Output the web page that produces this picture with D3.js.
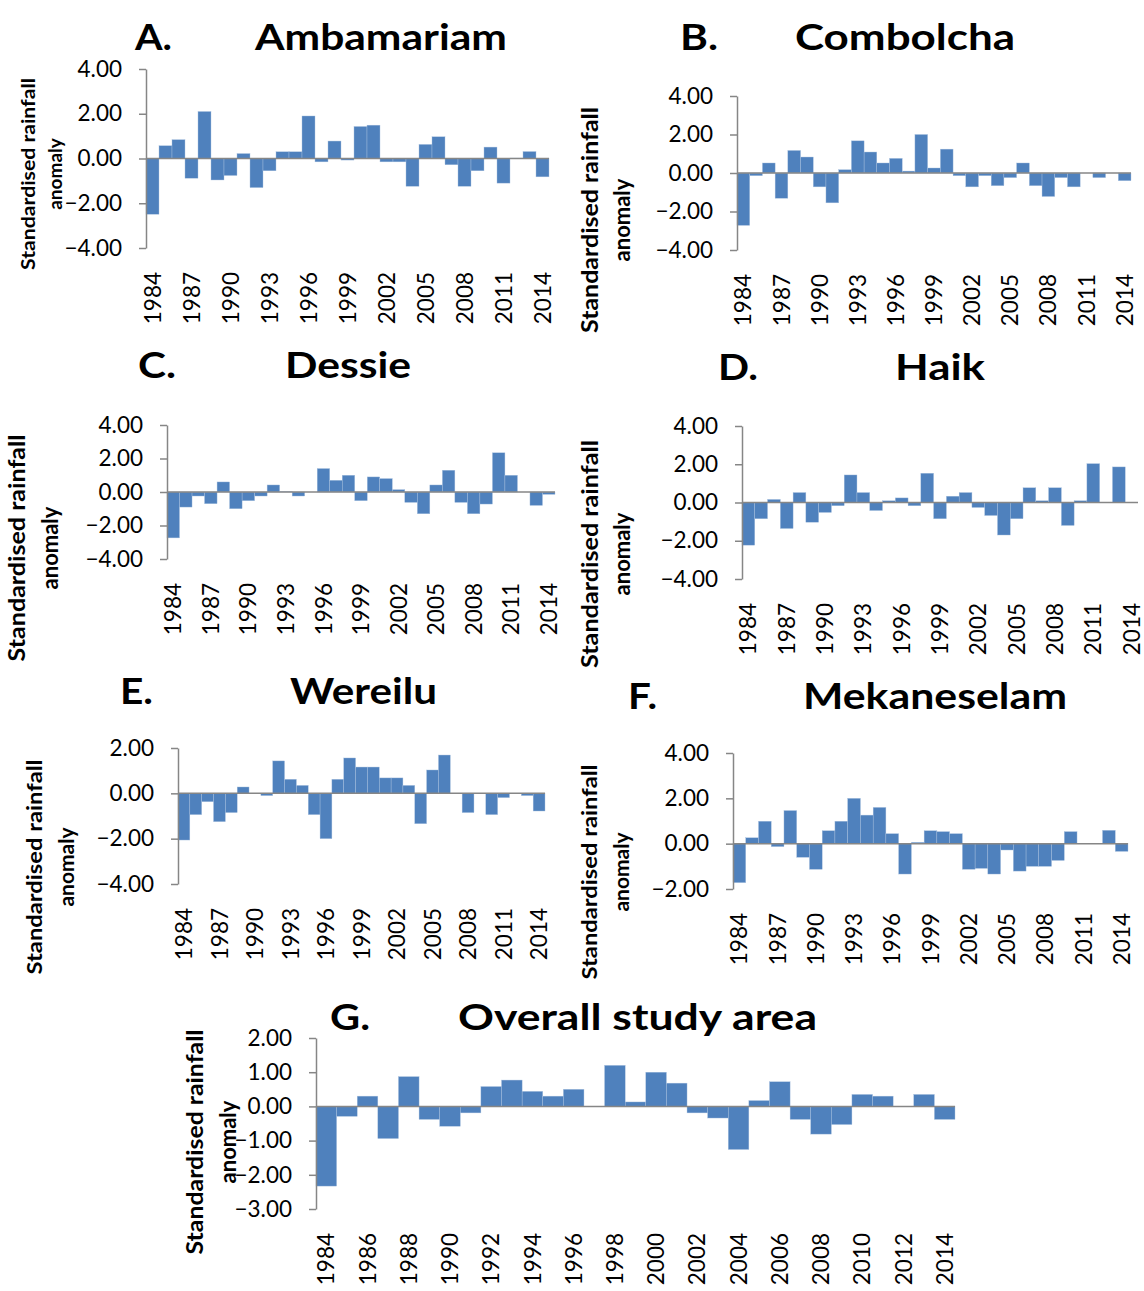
<!DOCTYPE html>
<html><head><meta charset="utf-8">
<script src="https://cdn.jsdelivr.net/npm/d3@7"></script>
<style>
body{margin:0;background:#fff}
svg{display:block}
text{font-family:Lato,"Open Sans",sans-serif}
</style>
</head><body>
<svg id="chart" width="1144" height="1291"></svg>
<script>
// ---------- data ----------
const years = [1984,1985,1986,1987,1988,1989,1990,1991,1992,1993,1994,1995,1996,1997,1998,1999,
               2000,2001,2002,2003,2004,2005,2006,2007,2008,2009,2010,2011,2012,2013,2014];
const yearLabelsEvery3 = [1984,1987,1990,1993,1996,1999,2002,2005,2008,2011,2014];
const yearLabelsEvery2 = [1984,1986,1988,1990,1992,1994,1996,1998,2000,2002,2004,2006,2008,2010,2012,2014];
const yTicks8 = [-4,-2,0,2,4];
const yTicksE = [-4,-2,0,2];
const yTicksF = [-2,0,2,4];
const yTicksG = [-3,-2,-1,0,1,2];

const ambamariam = [-2.49,0.57,0.84,-0.88,2.10,-0.96,-0.76,0.22,-1.30,-0.55,0.30,0.30,1.90,-0.15,0.78,-0.07,
                    1.43,1.49,-0.15,-0.15,-1.24,0.63,0.97,-0.28,-1.24,-0.55,0.51,-1.10,0.02,0.31,-0.82];
const combolcha  = [-2.72,-0.14,0.52,-1.31,1.17,0.83,-0.72,-1.55,0.17,1.67,1.09,0.52,0.76,0.10,2.00,0.26,
                    1.24,-0.14,-0.72,-0.14,-0.66,-0.24,0.52,-0.66,-1.22,-0.24,-0.72,0.00,-0.24,0.00,-0.40];
const dessie     = [-2.74,-0.90,-0.24,-0.70,0.60,-1.00,-0.52,-0.24,0.42,0.02,-0.24,0.00,1.40,0.70,1.00,-0.52,
                    0.90,0.80,0.14,-0.62,-1.30,0.42,1.30,-0.62,-1.30,-0.72,2.34,1.00,0.00,-0.80,-0.14];
const haik       = [-2.23,-0.85,0.16,-1.36,0.52,-1.03,-0.52,-0.17,1.44,0.52,-0.42,0.09,0.24,-0.17,1.53,-0.85,
                    0.33,0.52,-0.26,-0.68,-1.70,-0.85,0.77,0.09,0.77,-1.20,0.09,2.03,0.00,1.86,0.00];
const wereilu    = [-2.06,-0.94,-0.37,-1.25,-0.85,0.28,0.00,-0.10,1.43,0.62,0.35,-0.94,-2.00,0.62,1.56,1.16,
                    1.16,0.68,0.68,0.35,-1.34,1.03,1.69,0.00,-0.85,0.00,-0.94,-0.19,0.00,-0.10,-0.78];
const mekaneselam= [-1.72,0.26,0.99,-0.13,1.46,-0.60,-1.13,0.57,0.99,2.00,1.26,1.60,0.44,-1.34,0.06,0.57,
                    0.53,0.44,-1.13,-1.09,-1.34,-0.28,-1.21,-1.00,-1.00,-0.74,0.53,0.00,0.00,0.59,-0.34];
const overall    = [-2.33,-0.29,0.30,-0.94,0.87,-0.38,-0.58,-0.19,0.58,0.77,0.44,0.30,0.50,0.00,1.20,0.13,
                    1.00,0.68,-0.19,-0.34,-1.26,0.17,0.72,-0.38,-0.81,-0.53,0.35,0.30,0.00,0.35,-0.38];

const yLabel1 = "Standardised rainfall";
const yLabel2 = "anomaly";

// ---------- layout ----------
const panels = [
  {letter:"A.", name:"Ambamariam", values:ambamariam, dom:[-4,4], ticks:yTicks8, xt:yearLabelsEvery3,
   x0:146, x1:549, yT:69, yB:248, lx:135, lLen:37, nx:255, nLen:252, ty:50,
   l1x:28, l2x:55, lcy:174, lSize:19, lLen1:192},
  {letter:"B.", name:"Combolcha", values:combolcha, dom:[-4,4], ticks:yTicks8, xt:yearLabelsEvery3,
   x0:737, x1:1131, yT:96, yB:250, lx:680, lLen:38, nx:795, nLen:220, ty:50,
   l1x:590, l2x:622, lcy:220, lSize:22, lLen1:226},
  {letter:"C.", name:"Dessie", values:dessie, dom:[-4,4], ticks:yTicks8, xt:yearLabelsEvery3,
   x0:167, x1:555, yT:425, yB:559, lx:138, lLen:38, nx:285, nLen:126, ty:378,
   l1x:17, l2x:50, lcy:548, lSize:22, lLen1:227},
  {letter:"D.", name:"Haik", values:haik, dom:[-4,4], ticks:yTicks8, xt:yearLabelsEvery3,
   x0:742, x1:1138, yT:426, yB:579, lx:718, lLen:40, nx:895, nLen:90, ty:380,
   l1x:590, l2x:622, lcy:554, lSize:22, lLen1:228},
  {letter:"E.", name:"Wereilu", values:wereilu, dom:[-4,2], ticks:yTicksE, xt:yearLabelsEvery3,
   x0:178, x1:545, yT:748, yB:884, lx:120, lLen:33, nx:290, nLen:147, ty:704,
   l1x:35, l2x:67, lcy:867, lSize:21, lLen1:215},
  {letter:"F.", name:"Mekaneselam", values:mekaneselam, dom:[-2,4], ticks:yTicksF, xt:yearLabelsEvery3,
   x0:733, x1:1128, yT:753, yB:889, lx:628, lLen:29, nx:803, nLen:264, ty:709,
   l1x:590, l2x:622, lcy:872, lSize:21, lLen1:215},
  {letter:"G.", name:"Overall study area", values:overall, dom:[-3,2], ticks:yTicksG, xt:yearLabelsEvery2,
   x0:316, x1:955, yT:1038, yB:1209, lx:330, lLen:40, nx:458, nLen:359, ty:1030,
   l1x:195, l2x:228, lcy:1142, lSize:22, lLen1:225}
];

const svg = d3.select("#chart");
const axisColor = "#868686";
const barColor = "#4F81BD";
const fmt = d3.format(".2f");

panels.forEach(p => {
  const g = svg.append("g");
  const x = d3.scaleBand().domain(years).range([p.x0, p.x1]).padding(0);
  const y = d3.scaleLinear().domain(p.dom).range([p.yB, p.yT]);

  // bars
  g.selectAll("rect.bar").data(years.map((yr,i)=>({yr, v:p.values[i]})))
    .enter().append("rect").attr("class","bar")
    .attr("x", d => x(d.yr))
    .attr("width", x.bandwidth())
    .attr("y", d => y(Math.max(0,d.v)))
    .attr("height", d => Math.abs(y(d.v)-y(0)))
    .attr("fill", barColor)
    .attr("stroke", "#a9c0de").attr("stroke-width", 0.4);

  // y axis
  const ya = g.append("g").attr("transform", `translate(${p.x0},0)`)
    .call(d3.axisLeft(y).tickValues(p.ticks).tickFormat(fmt).tickSize(7).tickSizeOuter(0).tickPadding(17));
  ya.select(".domain").attr("stroke", axisColor).attr("stroke-width", 1.5);
  ya.selectAll(".tick line").attr("stroke", axisColor).attr("stroke-width", 1.5);
  ya.selectAll(".tick text").attr("font-size", 22.5).attr("fill", "#000");

  // zero line
  g.append("line").attr("x1", p.x0).attr("x2", p.x1).attr("y1", y(0)).attr("y2", y(0))
    .attr("stroke", axisColor).attr("stroke-width", 1.5);

  // x labels
  const xa = g.append("g").attr("transform", `translate(0,${p.yB})`)
    .call(d3.axisBottom(x).tickValues(p.xt).tickSize(0).tickPadding(0));
  xa.select(".domain").remove();
  xa.selectAll(".tick text")
    .attr("font-size", 22.5).attr("fill", "#000")
    .attr("text-anchor", "end")
    .attr("transform", "rotate(-90)")
    .attr("x", -24).attr("y", 0).attr("dy", "0.36em");

  // titles
  g.append("text").attr("x", p.lx).attr("y", p.ty).text(p.letter)
    .attr("font-size", 37).attr("font-weight", 700)
    .attr("textLength", p.lLen).attr("lengthAdjust", "spacingAndGlyphs");
  g.append("text").attr("x", p.nx).attr("y", p.ty).text(p.name)
    .attr("font-size", 37).attr("font-weight", 700)
    .attr("textLength", p.nLen).attr("lengthAdjust", "spacingAndGlyphs");

  // y-axis title (two lines)
  g.append("text").attr("transform", `translate(${p.l1x},${p.lcy}) rotate(-90)`)
    .attr("text-anchor", "middle").attr("dy", "0.35em")
    .attr("font-size", p.lSize).attr("font-weight", 700)
    .attr("textLength", p.lLen1).attr("lengthAdjust", "spacingAndGlyphs")
    .text(yLabel1);
  g.append("text").attr("transform", `translate(${p.l2x},${p.lcy}) rotate(-90)`)
    .attr("text-anchor", "middle").attr("dy", "0.35em")
    .attr("font-size", p.lSize).attr("font-weight", 700)
    .text(yLabel2);
});
</script>
</body></html>
